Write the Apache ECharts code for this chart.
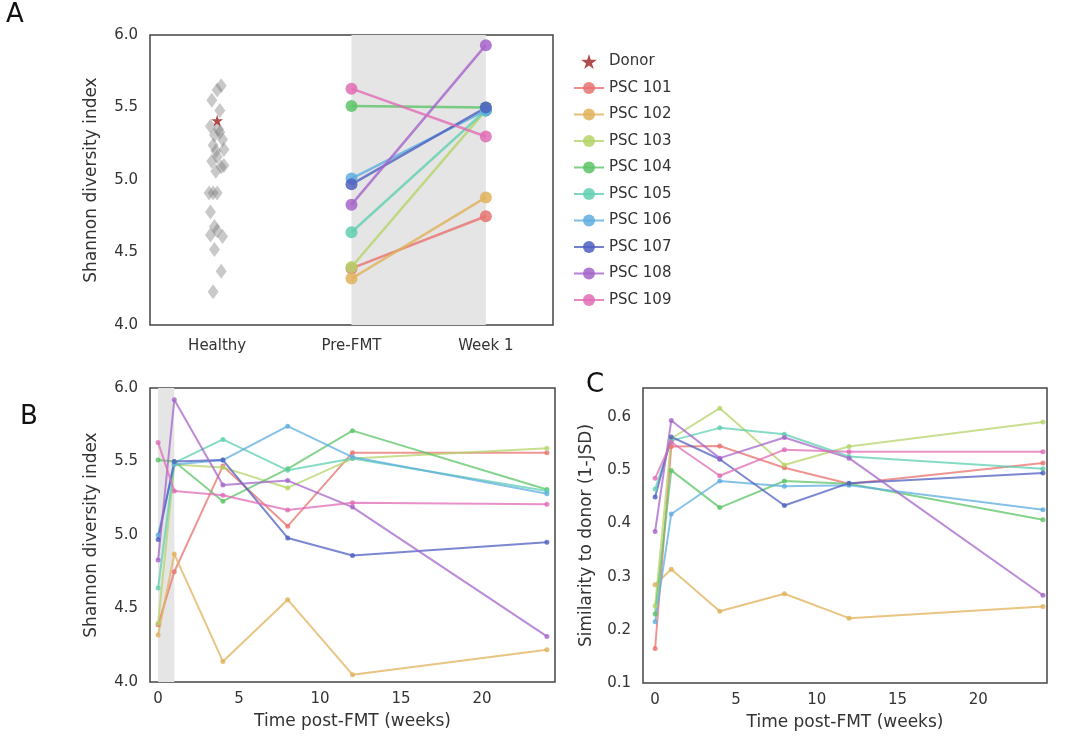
<!DOCTYPE html>
<html>
<head>
<meta charset="utf-8">
<script src="https://cdn.jsdelivr.net/npm/echarts@6/dist/echarts.min.js"></script>
<style>
  html, body { margin: 0; padding: 0; background: #fff; }
  #main { width: 1066px; height: 750px; }
</style>
</head>
<body>
<div id="main"></div>
<script>
// patients and colours
var patients = ['PSC 101', 'PSC 102', 'PSC 103', 'PSC 104', 'PSC 105', 'PSC 106', 'PSC 107', 'PSC 108', 'PSC 109'];
var colors = ['#e8726f', '#e0b25a', '#b4d469', '#5cc467', '#5fcfb0', '#5eaee0', '#4f5fc0', '#a564c9', '#e06cb5'];

// panel A
var groupLabels = ['Healthy', 'Pre-FMT', 'Week 1'];
var healthyVals = [5.65, 5.62, 5.55, 5.48, 5.37, 5.35, 5.31, 5.28, 5.24, 5.21, 5.16, 5.13, 5.09, 5.06, 4.91, 4.91, 4.91, 4.78, 4.68, 4.61, 4.62, 4.52, 4.37, 4.23, 5.33, 5.20, 5.10, 4.65];
var healthyJitter = [0.03, 0.0, -0.04, 0.02, -0.05, 0.01, -0.02, 0.04, -0.03, 0.05, 0.0, -0.04, 0.03, -0.01, -0.06, 0.0, -0.03, -0.05, -0.02, 0.04, -0.05, -0.02, 0.03, -0.03, 0.02, -0.01, 0.05, 0.0];
var donorVal = 5.41;
var preFMT = [4.39, 4.32, 4.40, 5.51, 4.64, 5.01, 4.97, 4.83, 5.63];
var week1 = [4.75, 4.88, 5.48, 5.50, 5.48, 5.48, 5.50, 5.93, 5.30];

// panel B: Shannon over time
var weeks = [0, 1, 4, 8, 12, 24];
var shannon = [
  [4.39, 4.75, 5.47, 5.06, 5.56, 5.56],
  [4.32, 4.87, 4.14, 4.56, 4.05, 4.22],
  [4.40, 5.48, 5.46, 5.32, 5.52, 5.59],
  [5.51, 5.50, 5.23, 5.45, 5.71, 5.31],
  [4.64, 5.49, 5.65, 5.44, 5.52, 5.30],
  [5.00, 5.48, 5.51, 5.74, 5.53, 5.28],
  [4.97, 5.50, 5.51, 4.98, 4.86, 4.95],
  [4.83, 5.92, 5.34, 5.37, 5.19, 4.31],
  [5.63, 5.30, 5.27, 5.17, 5.22, 5.21]
];

// panel C: similarity to donor
var similarity = [
  [0.165, 0.545, 0.546, 0.505, 0.475, 0.514],
  [0.285, 0.314, 0.235, 0.268, 0.222, 0.244],
  [0.245, 0.560, 0.617, 0.510, 0.545, 0.591],
  [0.230, 0.500, 0.430, 0.480, 0.475, 0.407],
  [0.465, 0.556, 0.580, 0.568, 0.526, 0.503],
  [0.215, 0.418, 0.480, 0.470, 0.472, 0.426],
  [0.450, 0.563, 0.521, 0.434, 0.476, 0.495],
  [0.385, 0.594, 0.523, 0.562, 0.523, 0.265],
  [0.485, 0.553, 0.490, 0.539, 0.535, 0.535]
];

var font = 'DejaVu Sans';
var txt = '#333';
var starPath = 'path://M50,0 L61,35 L98,35 L68,57 L79,91 L50,70 L21,91 L32,57 L2,35 L39,35 Z';

function axisY(grid, min, max, interval, name, gap) {
  return {
    gridIndex: grid, type: 'value', min: min, max: max, interval: interval,
    name: name, nameLocation: 'middle', nameGap: gap,
    nameTextStyle: { fontFamily: font, fontSize: 17, color: txt },
    axisLine: { show: false }, axisTick: { show: false }, splitLine: { show: false },
    axisLabel: { fontFamily: font, fontSize: 15, color: txt, margin: 12, showMaxLabel: max % interval < 1e-6 || interval - (max % interval) < 1e-6,
      formatter: function (v) { return v.toFixed(1); } }
  };
}
function axisTime(grid, min, max) {
  return {
    gridIndex: grid, type: 'value', min: min, max: max,
    name: 'Time post-FMT (weeks)', nameLocation: 'middle', nameGap: 31,
    nameTextStyle: { fontFamily: font, fontSize: 17, color: txt },
    axisLine: { show: false }, axisTick: { show: false }, splitLine: { show: false },
    axisLabel: { fontFamily: font, fontSize: 15, color: txt, margin: 10,
      customValues: [0, 5, 10, 15, 20] }
  };
}

var series = [];
var gridStyle = { show: true, borderColor: '#444', borderWidth: 1.5, backgroundColor: '#fff' };

// shaded areas
series.push({ type: 'line', xAxisIndex: 0, yAxisIndex: 0, data: [], silent: true,
  markArea: { silent: true, itemStyle: { color: '#e5e5e5' }, data: [[{ xAxis: 1 }, { xAxis: 2 }]] } });
series.push({ type: 'line', xAxisIndex: 1, yAxisIndex: 1, data: [], silent: true,
  markArea: { silent: true, itemStyle: { color: '#e5e5e5' }, data: [[{ xAxis: 0 }, { xAxis: 1 }]] } });

// healthy diamonds
series.push({ type: 'scatter', xAxisIndex: 0, yAxisIndex: 0, symbol: 'diamond', symbolSize: [11, 15],
  itemStyle: { color: 'rgba(120,120,120,0.5)' },
  data: healthyVals.map(function (v, i) { return [healthyJitter[i], v]; }) });
series.push({ name: 'Donor', type: 'scatter', xAxisIndex: 0, yAxisIndex: 0, symbol: starPath, symbolSize: 12,
  itemStyle: { color: '#9b2020' }, data: [[0, donorVal]], z: 5 });

patients.forEach(function (p, i) {
  series.push({ name: p, type: 'line', xAxisIndex: 0, yAxisIndex: 0, symbol: 'circle', symbolSize: 12,
    lineStyle: { width: 2.5, opacity: 0.8 }, itemStyle: { color: colors[i], opacity: 0.85 },
    data: [[1, preFMT[i]], [2, week1[i]]] });
  series.push({ name: p, type: 'line', xAxisIndex: 1, yAxisIndex: 1, symbol: 'circle', symbolSize: 5,
    lineStyle: { width: 2, opacity: 0.75 }, itemStyle: { color: colors[i], opacity: 0.8 },
    data: weeks.map(function (w, k) { return [w, shannon[i][k]]; }) });
  series.push({ name: p, type: 'line', xAxisIndex: 2, yAxisIndex: 2, symbol: 'circle', symbolSize: 5,
    lineStyle: { width: 2, opacity: 0.75 }, itemStyle: { color: colors[i], opacity: 0.8 },
    data: weeks.map(function (w, k) { return [w, similarity[i][k]]; }) });
});

var chart = echarts.init(document.getElementById('main'));
chart.setOption({
  backgroundColor: '#fff',
  animation: false,
  grid: [
    Object.assign({ left: 150, top: 35, width: 403, height: 290 }, gridStyle),
    Object.assign({ left: 150, top: 388, width: 405, height: 294 }, gridStyle),
    Object.assign({ left: 643, top: 388, width: 404, height: 295 }, gridStyle)
  ],
  legend: {
    orient: 'vertical', left: 568, top: 49, itemGap: 11.5, itemWidth: 30, itemHeight: 15,
    textStyle: { fontFamily: font, fontSize: 15, color: txt },
    data: ['Donor'].concat(patients)
  },
  xAxis: [
    { gridIndex: 0, type: 'value', min: -0.5, max: 2.5, interval: 1,
      axisLine: { show: false }, axisTick: { show: false }, splitLine: { show: false },
      axisLabel: { fontFamily: font, fontSize: 15, color: txt, margin: 14,
        customValues: [0, 1, 2],
        formatter: function (v) { return groupLabels[Math.round(v)]; } } },
    axisTime(1, -0.5, 24.5),
    axisTime(2, -0.75, 24.25)
  ],
  yAxis: [
    axisY(0, 4, 6, 0.5, 'Shannon diversity index', 50),
    axisY(1, 4, 6, 0.5, 'Shannon diversity index', 50),
    axisY(2, 0.1, 0.655, 0.1, 'Similarity to donor (1-JSD)', 48)
  ],
  graphic: [
    { type: 'text', left: 6, top: 2, style: { text: 'A', font: '26px "DejaVu Sans"', fill: '#111' } },
    { type: 'text', left: 20, top: 404, style: { text: 'B', font: '26px "DejaVu Sans"', fill: '#111' } },
    { type: 'text', left: 586, top: 372, style: { text: 'C', font: '26px "DejaVu Sans"', fill: '#111' } }
  ],
  series: series
});
</script>
</body>
</html>
